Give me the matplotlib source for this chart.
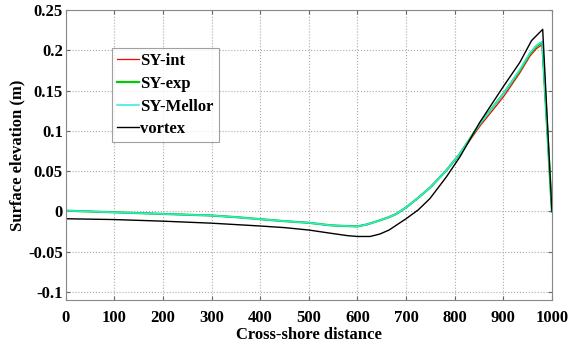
import matplotlib
matplotlib.use("Agg")
import matplotlib.pyplot as plt

plt.rcParams['font.family'] = ['Liberation Serif', 'DejaVu Serif']
plt.rcParams['font.weight'] = 'bold'

x_sy = [0, 50, 100, 150, 200, 250, 300, 350, 400, 450, 500, 545, 575, 600, 620, 646, 665, 680, 700,
        725, 750, 783, 811, 852, 900, 934, 955, 968, 980, 1000]
sy_exp = [0.001, 0.0, -0.001, -0.002, -0.003, -0.004, -0.005, -0.007, -0.0095, -0.012, -0.014, -0.0172,
          -0.018, -0.0185, -0.016, -0.011, -0.007, -0.003, 0.005, 0.017, 0.030, 0.051, 0.072, 0.109,
          0.146, 0.175, 0.196, 0.205, 0.210, 0.0]
sy_mellor = [0.001, 0.0, -0.001, -0.002, -0.003, -0.004, -0.005, -0.007, -0.0095, -0.012, -0.014, -0.0172,
             -0.018, -0.0185, -0.016, -0.011, -0.007, -0.003, 0.005, 0.017, 0.030, 0.051, 0.072, 0.109,
             0.146, 0.176, 0.197, 0.206, 0.211, 0.0]
sy_int = [0.001, 0.0, -0.001, -0.002, -0.003, -0.004, -0.005, -0.007, -0.0095, -0.012, -0.014, -0.0172,
          -0.018, -0.0185, -0.016, -0.011, -0.007, -0.003, 0.005, 0.017, 0.030, 0.051, 0.071, 0.106,
          0.142, 0.172, 0.193, 0.202, 0.207, 0.0]

x_vx = [0, 100, 200, 300, 400, 450, 500, 545, 580, 600, 626, 646, 665, 680, 700, 725, 749, 783, 811,
        852, 900, 934, 958, 981, 1000]
vortex = [-0.009, -0.010, -0.012, -0.0145, -0.018, -0.020, -0.023, -0.027, -0.030, -0.031, -0.031,
          -0.028, -0.023, -0.017, -0.009, 0.002, 0.016, 0.043, 0.068, 0.111, 0.155, 0.185, 0.212,
          0.226, 0.0]

xticks = [0, 100, 200, 300, 400, 500, 600, 700, 800, 900, 1000]
yticks = [-0.1, -0.05, 0, 0.05, 0.1, 0.15, 0.2, 0.25]
yticklabels = ['-0.1', '-0.05', '0', '0.05', '0.1', '0.15', '0.2', '0.25']

fig = plt.figure(figsize=(5.69, 3.45), dpi=100)
ax = fig.add_axes([0.1155, 0.130, 0.8545, 0.841])

ax.plot(x_sy, sy_int, color='#ff0000', lw=0.9, label='SY-int')
ax.plot(x_sy, sy_exp, color='#00cc00', lw=1.6, label='SY-exp')
ax.plot(x_sy, sy_mellor, color='#33e8e0', lw=1.1, label='SY-Mellor')
ax.plot(x_vx, vortex, color='black', lw=1.0, label='vortex')

ax.set_xlim(0, 1000)
ax.set_ylim(-0.11, 0.25)
ax.set_xticks(xticks)
ax.set_yticks(yticks)
ax.set_yticklabels(yticklabels)
ax.tick_params(axis='both', direction='in', length=3, top=True, right=True, labelsize=12,
               color='#666666')
ax.tick_params(axis='x', pad=7)
ax.tick_params(axis='y', pad=2)
for lab in ax.get_xticklabels() + ax.get_yticklabels():
    lab.set_fontweight('bold')
ax.grid(True, linestyle=':', color='#aaaaaa', lw=0.8)
for s in ax.spines.values():
    s.set_color('#888888')

ax.set_xlabel('Cross-shore distance', fontsize=12, fontweight='bold', labelpad=1)
ax.set_ylabel('Surface elevation (m)', fontsize=12, fontweight='bold', labelpad=2)

leg = ax.legend(loc='upper left', bbox_to_anchor=(0.095, 0.868), fontsize=12, frameon=True,
                fancybox=False, handlelength=1.3, handletextpad=0.1, borderpad=0.3,
                labelspacing=0.4, borderaxespad=0)
leg.get_frame().set_edgecolor('#888888')
leg.get_frame().set_linewidth(0.8)
for t in leg.get_texts():
    t.set_fontweight('bold')

fig.savefig('out.png', dpi=100)
